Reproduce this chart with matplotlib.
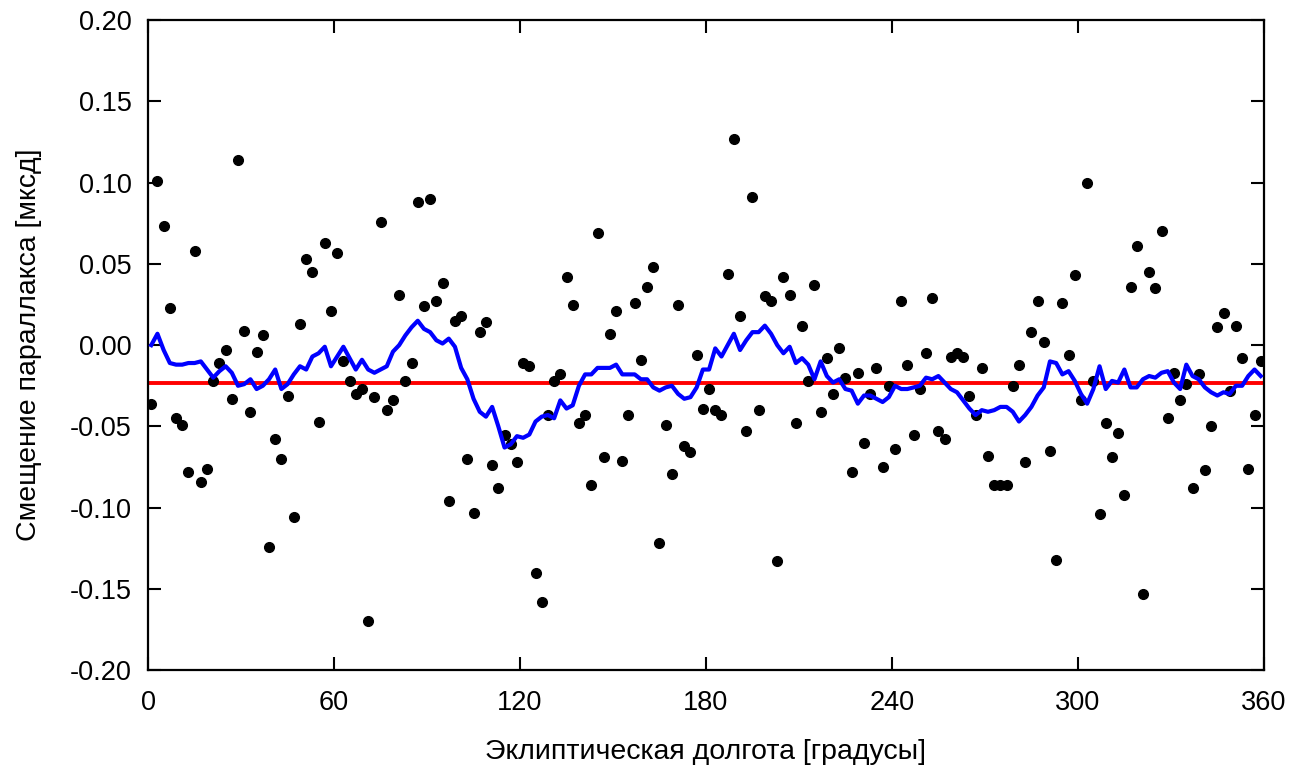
import numpy as np
import matplotlib
matplotlib.use("Agg")
import matplotlib.pyplot as plt

plt.rcParams['font.family'] = ['Liberation Sans', 'DejaVu Sans']

# ecliptic longitude of each bin (deg)
lon = np.arange(1, 360, 2)

# parallax offset per bin
offset = [
    -0.036, 0.101, 0.0735, 0.023, -0.045, -0.049, -0.078, 0.058, -0.084, -0.076,
    -0.022, -0.011, -0.003, -0.033, 0.114, 0.009, -0.041, -0.004, 0.006, -0.124,
    -0.058, -0.070, -0.031, -0.106, 0.013, 0.053, 0.045, -0.047, 0.063, 0.021,
    0.057, -0.010, -0.022, -0.030, -0.027, -0.170, -0.032, 0.076, -0.040, -0.034,
    0.031, -0.022, -0.011, 0.088, 0.024, 0.090, 0.027, 0.038, -0.096, 0.015,
    0.018, -0.070, -0.103, 0.008, 0.014, -0.074, -0.088, -0.055, -0.061, -0.072,
    -0.011, -0.013, -0.140, -0.158, -0.043, -0.022, -0.018, 0.042, 0.025, -0.048,
    -0.043, -0.086, 0.069, -0.069, 0.007, 0.021, -0.071, -0.043, 0.026, -0.009,
    0.036, 0.048, -0.122, -0.049, -0.079, 0.025, -0.062, -0.066, -0.006, -0.039,
    -0.027, -0.040, -0.043, 0.044, 0.127, 0.018, -0.053, 0.091, -0.040, 0.030,
    0.027, -0.133, 0.042, 0.031, -0.048, 0.012, -0.022, 0.037, -0.041, -0.008,
    -0.030, -0.002, -0.020, -0.078, -0.017, -0.060, -0.030, -0.014, -0.075, -0.025,
    -0.064, 0.027, -0.012, -0.055, -0.027, -0.005, 0.029, -0.053, -0.058, -0.007,
    -0.005, -0.007, -0.031, -0.043, -0.014, -0.068, -0.086, -0.086, -0.086, -0.025,
    -0.012, -0.072, 0.008, 0.027, 0.002, -0.065, -0.132, 0.026, -0.006, 0.043,
    -0.034, 0.100, -0.022, -0.104, -0.048, -0.069, -0.054, -0.092, 0.036, 0.061,
    -0.153, 0.045, 0.035, 0.070, -0.045, -0.017, -0.034, -0.024, -0.088, -0.018,
    -0.077, -0.050, 0.011, 0.020, -0.028, 0.012, -0.008, -0.076, -0.043, -0.010,
]

# smoothed curve (blue)
smooth = [
    0.000, 0.007, -0.003, -0.011, -0.012, -0.012, -0.011, -0.011, -0.010, -0.015,
    -0.020, -0.016, -0.013, -0.017, -0.025, -0.024, -0.021, -0.027, -0.025, -0.021,
    -0.015, -0.027, -0.024, -0.018, -0.013, -0.015, -0.007, -0.005, -0.001, -0.013,
    -0.007, -0.001, -0.008, -0.015, -0.009, -0.015, -0.017, -0.015, -0.013, -0.004,
    0.000, 0.006, 0.011, 0.015, 0.010, 0.008, 0.003, 0.001, 0.004, -0.001,
    -0.014, -0.021, -0.033, -0.041, -0.044, -0.038, -0.050, -0.063, -0.061, -0.056,
    -0.057, -0.055, -0.047, -0.044, -0.043, -0.045, -0.034, -0.039, -0.037, -0.025,
    -0.018, -0.018, -0.014, -0.014, -0.014, -0.012, -0.018, -0.018, -0.018, -0.021,
    -0.021, -0.026, -0.028, -0.026, -0.025, -0.030, -0.033, -0.032, -0.026, -0.015,
    -0.015, -0.002, -0.007, 0.000, 0.007, -0.003, 0.003, 0.008, 0.008, 0.012,
    0.007, 0.000, -0.005, -0.001, -0.011, -0.008, -0.012, -0.021, -0.010, -0.019,
    -0.023, -0.021, -0.027, -0.028, -0.036, -0.031, -0.031, -0.033, -0.035, -0.032,
    -0.025, -0.027, -0.027, -0.026, -0.025, -0.020, -0.021, -0.019, -0.023, -0.027,
    -0.029, -0.034, -0.039, -0.043, -0.040, -0.041, -0.040, -0.038, -0.038, -0.041,
    -0.047, -0.043, -0.038, -0.031, -0.026, -0.010, -0.011, -0.018, -0.016, -0.022,
    -0.030, -0.036, -0.027, -0.013, -0.027, -0.022, -0.023, -0.015, -0.026, -0.026,
    -0.021, -0.019, -0.020, -0.017, -0.016, -0.023, -0.027, -0.012, -0.019, -0.021,
    -0.026, -0.029, -0.031, -0.029, -0.030, -0.025, -0.025, -0.019, -0.015, -0.019,
]

# mean level (red)
mean_level = -0.023

xticks = [0, 60, 120, 180, 240, 300, 360]
yticks = [-0.20, -0.15, -0.10, -0.05, 0.00, 0.05, 0.10, 0.15, 0.20]

fig = plt.figure(figsize=(13.11, 7.73), dpi=100)
ax = fig.add_axes([0.113, 0.133, 0.851, 0.841])

ax.axhline(mean_level, color='red', lw=2.8, zorder=2)
ax.plot(lon, offset, 'o', color='black', ms=7, zorder=3)
ax.plot(lon, smooth, color='blue', lw=3, zorder=4)

ax.set_xlim(0, 360)
ax.set_ylim(-0.2, 0.2)
ax.set_xticks(xticks)
ax.set_yticks(yticks)
ax.set_yticklabels(["%.2f" % v for v in yticks])
ax.tick_params(direction='in', length=9.5, width=1.5, top=True, right=True,
               labelsize=19.5)
ax.tick_params(axis='x', pad=14)
ax.tick_params(axis='y', pad=12)
for s in ax.spines.values():
    s.set_linewidth(1.6)

ax.set_xlabel("Эклиптическая долгота [градусы]", fontsize=20.5, labelpad=17)
ax.set_ylabel("Смещение параллакса [мксд]", fontsize=20.5, labelpad=20)

fig.savefig("out.png", dpi=100)
